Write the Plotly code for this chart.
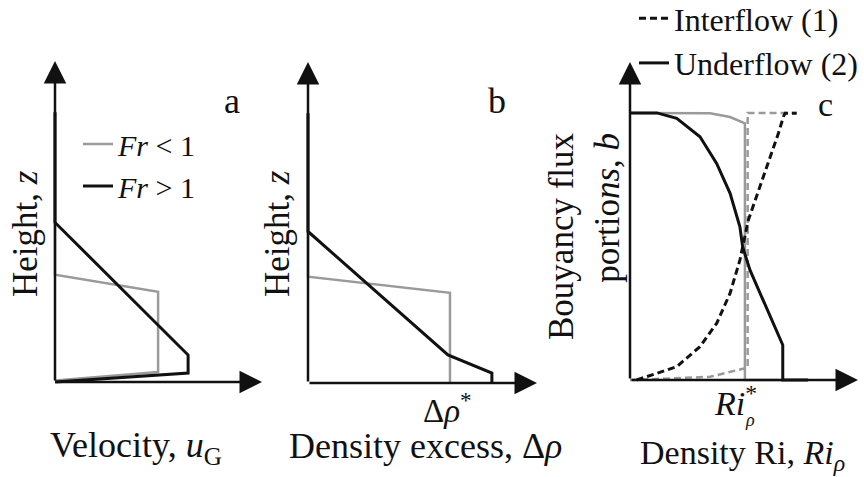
import plotly.graph_objects as go

W, H = 864, 477
FONT = "Liberation Serif, 'Times New Roman', 'DejaVu Serif', serif"
GREY = "#9a9a9a"
BLACK = "#111111"

# ---- panel (a): velocity profiles (u normalised by axis length, z likewise)
vel_sub_u = [0.0, 0.0, 0.498, 0.498, 0.0]      # Fr < 1
vel_sub_z = [0.84, 0.334, 0.281, 0.031, 0.005]
vel_sup_u = [0.0, 0.0, 0.643, 0.643, 0.0]      # Fr > 1
vel_sup_z = [0.84, 0.497, 0.084, 0.028, 0.0]

# ---- panel (b): density-excess profiles
rho_sub_x = [0.0, 0.0, 0.62, 0.62]             # Fr < 1
rho_sub_z = [0.84, 0.331, 0.281, 0.0]
rho_sup_x = [0.0, 0.0, 0.611, 0.803, 0.803]    # Fr > 1
rho_sup_z = [0.84, 0.472, 0.0875, 0.031, 0.0]

# ---- panel (c): buoyancy flux portions vs density Richardson number
under_ri = [0.0, 0.118, 0.205, 0.307, 0.380, 0.439, 0.482, 0.494, 0.526, 0.670, 0.670, 0.781]
under_b = [0.84, 0.84, 0.823, 0.765, 0.681, 0.587, 0.482, 0.419, 0.346, 0.110, 0.0, 0.0]
inter_ri = [0.029, 0.205, 0.307, 0.380, 0.439, 0.482, 0.519, 0.570, 0.614, 0.651, 0.673, 0.680, 0.731]
inter_b = [0.0, 0.042, 0.105, 0.178, 0.273, 0.377, 0.503, 0.608, 0.702, 0.776, 0.828, 0.839, 0.839]
step_under_ri = [0.0, 0.351, 0.439, 0.504, 0.504, 0.671]
step_under_b = [0.84, 0.839, 0.827, 0.807, 0.0, 0.0]
step_inter_ri = [0.0, 0.351, 0.504, 0.516, 0.516, 0.731]
step_inter_b = [0.0, 0.010, 0.037, 0.037, 0.84, 0.84]

# axis frames in pixels: origin x, arrow tip x, origin y, arrow tip y
FRAMES = {
    "a": (55, 262, 382, 61),
    "b": (308, 537, 383, 62),
    "c": (630, 858, 380, 62),
}
LO, HI = -0.04, 1.02

fig = go.Figure()
axis_ids = {"a": ("x", "y"), "b": ("x2", "y2"), "c": ("x3", "y3")}

for key, (xo, xt, yo, yt) in FRAMES.items():
    xa, ya = axis_ids[key]
    x0 = xo + LO * (xt - xo)
    x1 = xo + HI * (xt - xo)
    y0 = yo + LO * (yt - yo)
    y1 = yo + HI * (yt - yo)
    common = dict(range=[LO, HI], visible=False, showgrid=False, zeroline=False)
    fig.update_layout({
        ("xaxis" if xa == "x" else "xaxis" + xa[1:]): dict(domain=[x0 / W, x1 / W], anchor=ya, **common),
        ("yaxis" if ya == "y" else "yaxis" + ya[1:]): dict(domain=[1 - y0 / H, 1 - y1 / H], anchor=xa, **common),
    })
    # axis arrows
    for tip in [(1.0, 0.0), (0.0, 1.0)]:
        fig.add_annotation(x=tip[0], y=tip[1], ax=0, ay=0, xref=xa, yref=ya,
                           axref=xa, ayref=ya, text="", showarrow=True,
                           arrowhead=2, arrowsize=1.8, arrowwidth=2.5,
                           arrowcolor=BLACK, standoff=0)


def line(x, y, ax, color, width=3, dash=None, name=None, legend=None):
    fig.add_trace(go.Scatter(
        x=x, y=y, mode="lines", xaxis=ax[0], yaxis=ax[1],
        line=dict(color=color, width=width, dash=dash),
        name=name, showlegend=name is not None,
        legend=legend, legendgroup=name,
        hoverinfo="skip"))


line(vel_sub_u, vel_sub_z, axis_ids["a"], GREY, 2.5, name="<i>Fr</i> < 1", legend="legend")
line(vel_sup_u, vel_sup_z, axis_ids["a"], BLACK, 3, name="<i>Fr</i> > 1", legend="legend")
line(rho_sub_x, rho_sub_z, axis_ids["b"], GREY, 2.5)
line(rho_sup_x, rho_sup_z, axis_ids["b"], BLACK, 3)
line(step_inter_ri, step_inter_b, axis_ids["c"], GREY, 2.5, dash="7px,4px")
line(step_under_ri, step_under_b, axis_ids["c"], GREY, 2.5)
line(inter_ri, inter_b, axis_ids["c"], BLACK, 3, dash="7px,4px", name="Interflow (1)", legend="legend2")
line(under_ri, under_b, axis_ids["c"], BLACK, 3, name="Underflow (2)", legend="legend2")

TXT = dict(family=FONT, size=34, color=BLACK)


def label(text, px, py, size=34, angle=0, align="center"):
    fig.add_annotation(x=px / W, y=1 - py / H, xref="paper", yref="paper",
                       text=text, showarrow=False, textangle=angle,
                       xanchor="center", yanchor="middle", align=align,
                       font=dict(TXT, size=size))


# panel letters
label("a", 232, 101, 36)
label("b", 497, 101, 36)
label("c", 825, 104, 34)

# vertical axis titles
label("Height, <i>z</i>", 25, 234, 35, -90)
label("Height, <i>z</i>", 277, 234, 35, -90)
label("Bouyancy flux<br>portio<i>ns</i>, <i>b</i>", 585, 236, 35, -90, align="right")

# horizontal axis titles and marks
label("Velocity, <i>u</i><sub>G</sub>", 136, 447, 36)
label("Δ<i>ρ</i><sup>*</sup>", 447, 408, 33)
label("Density excess, Δ<i>ρ</i>", 425, 446, 36)
label("<i>Ri</i><sup>*</sup>", 735, 401, 34)
label("<i>ρ</i>", 750, 420, 18)
label("Density Ri, <i>Ri</i><sub><i>ρ</i></sub>", 742, 455, 34)

fig.update_layout(
    width=W, height=H,
    margin=dict(l=0, r=0, t=0, b=0, autoexpand=False),
    paper_bgcolor="white", plot_bgcolor="rgba(0,0,0,0)",
    legend=dict(x=78 / W, y=1 - 118 / H, xanchor="left", yanchor="top",
                bgcolor="rgba(0,0,0,0)", font=dict(family=FONT, size=30, color=BLACK),
                tracegroupgap=6, traceorder="normal"),
    legend2=dict(x=634 / W, y=1 + 9 / H, xanchor="left", yanchor="top",
                 bgcolor="rgba(0,0,0,0)", font=dict(family=FONT, size=32, color=BLACK),
                 tracegroupgap=0, traceorder="normal"),
)

fig.write_html("out.html")
